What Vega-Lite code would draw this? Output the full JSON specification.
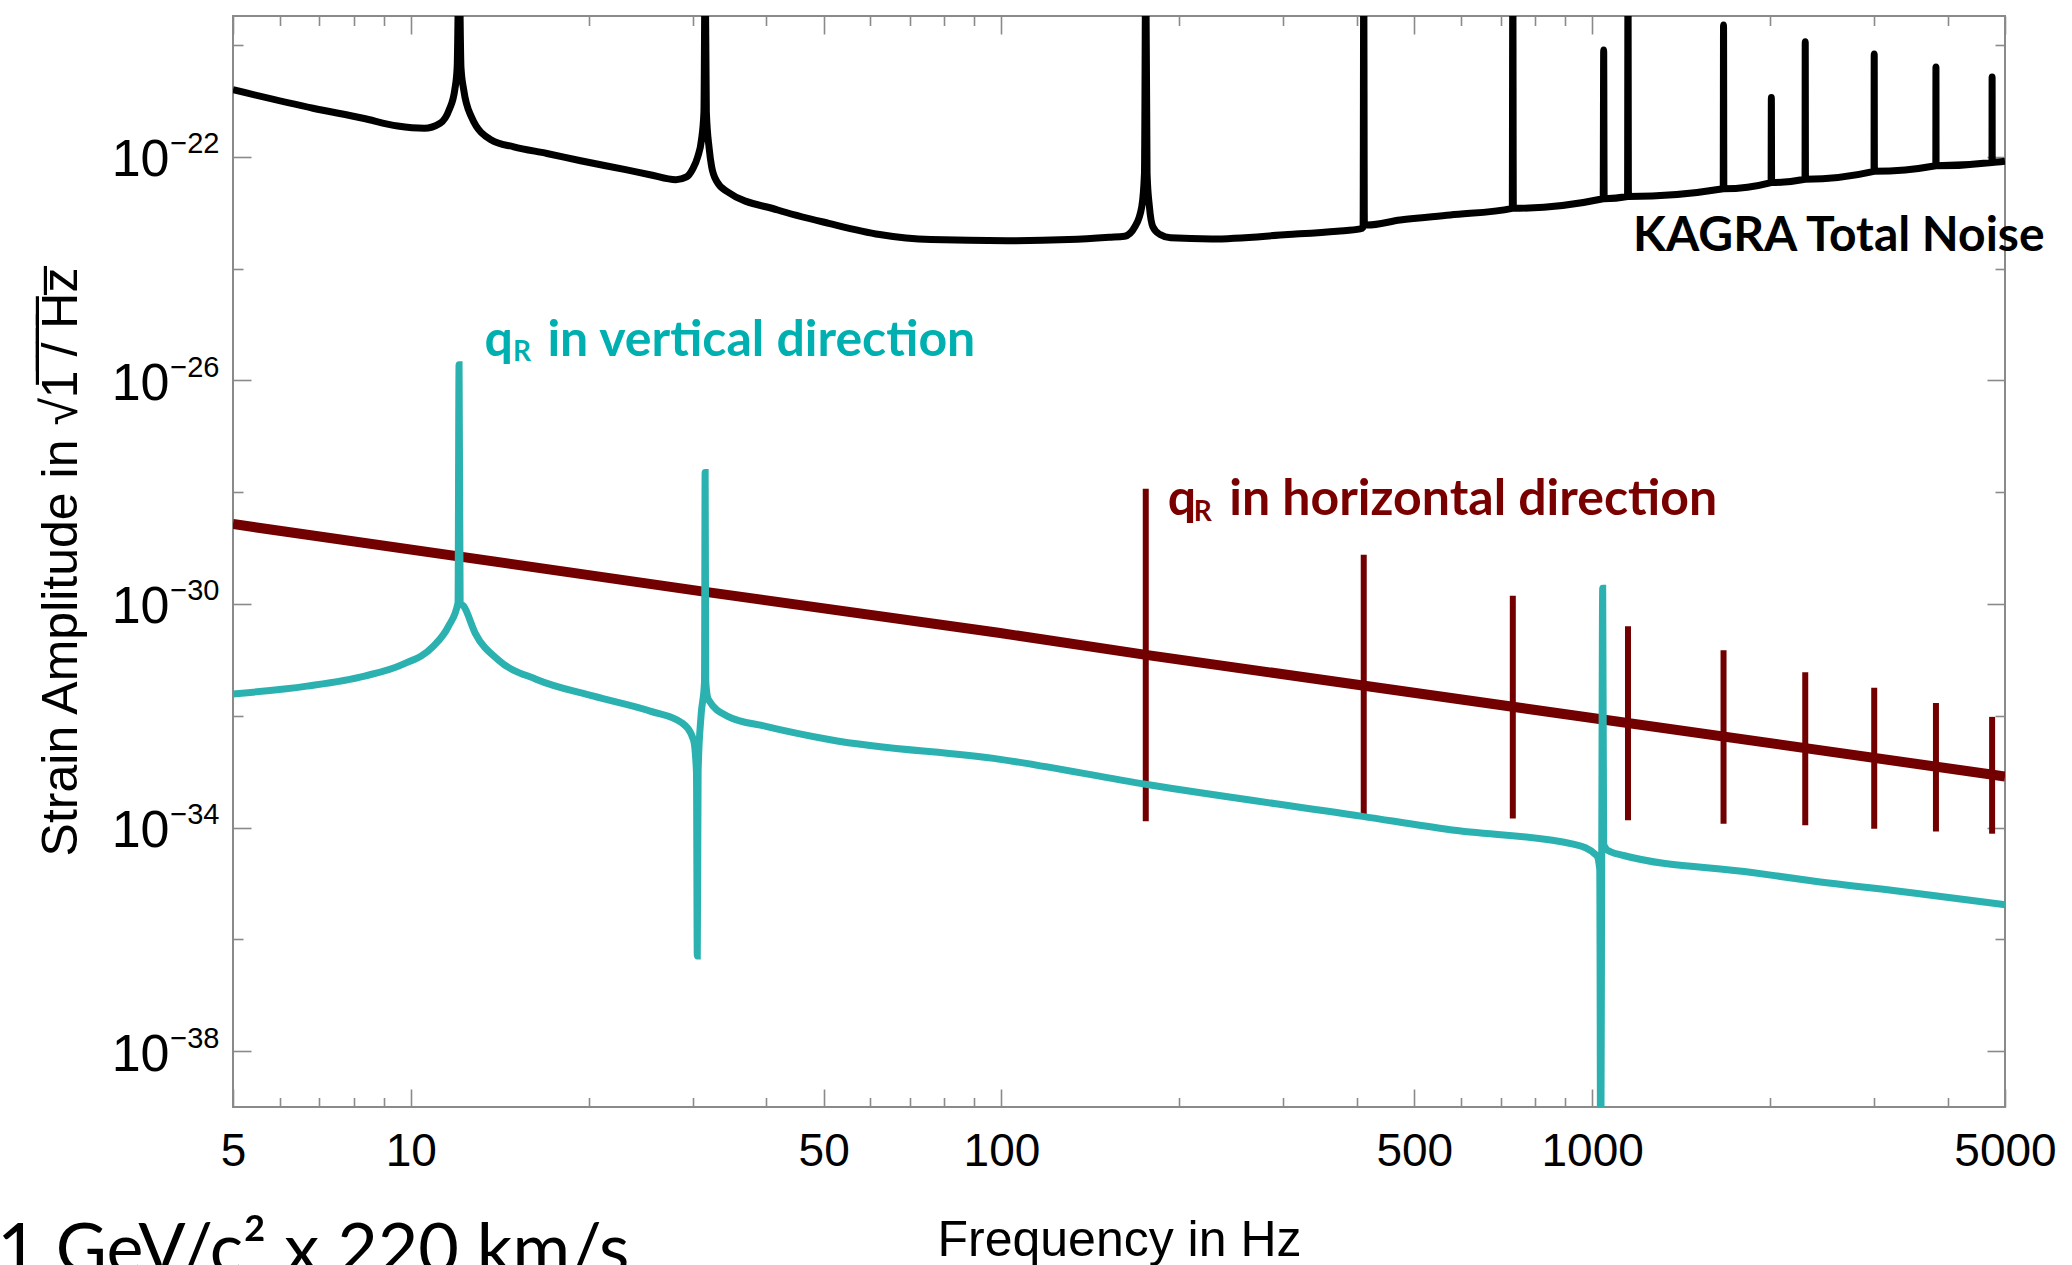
{
  "$schema": "https://vega.github.io/schema/vega-lite/v6.json",
  "width": 1772,
  "height": 1091,
  "autosize": {"type": "none"},
  "padding": {"left": 233, "top": 16, "right": 67, "bottom": 158},
  "background": "white",
  "config": {
    "view": {"stroke": "#8a8a8a", "strokeWidth": 2},
    "axis": {
      "domain": false,
      "grid": false,
      "tickColor": "#8a8a8a",
      "tickWidth": 1.6,
      "labelFont": "Liberation Sans",
      "labelColor": "black",
      "titleFont": "Liberation Sans",
      "titleColor": "black",
      "titleFontWeight": "normal"
    }
  },
  "datasets": {
    "noise": [
      {"f": 5, "h": 1.585e-21}, {"f": 6.83, "h": 7.41e-22}, {"f": 8.3, "h": 4.9e-22},
      {"f": 9.5, "h": 3.55e-22}, {"f": 10.54, "h": 3.24e-22}, {"f": 11.21, "h": 3.98e-22},
      {"f": 11.61, "h": 6.92e-22}, {"f": 11.87, "h": 1.585e-21}, {"f": 11.98, "h": 3.98e-21},
      {"f": 12.07, "h": 3.16e-19}, {"f": 12.16, "h": 3.98e-21}, {"f": 12.29, "h": 1.585e-21},
      {"f": 12.66, "h": 5.25e-22}, {"f": 13.69, "h": 2.0e-22}, {"f": 14.94, "h": 1.51e-22},
      {"f": 17.0, "h": 1.148e-22}, {"f": 19.39, "h": 8.51e-23}, {"f": 23.1, "h": 5.89e-23},
      {"f": 25.4, "h": 4.79e-23}, {"f": 28.1, "h": 3.89e-23}, {"f": 29.3, "h": 4.37e-23},
      {"f": 30.0, "h": 6.03e-23}, {"f": 30.6, "h": 1.0e-22}, {"f": 31.05, "h": 2.0e-22},
      {"f": 31.35, "h": 6.31e-22},
      {"f": 31.5, "h": 3.16e-19}, {"f": 31.65, "h": 6.31e-22}, {"f": 32.0, "h": 1.41e-22},
      {"f": 32.3, "h": 6.76e-23}, {"f": 33.0, "h": 3.55e-23}, {"f": 34.3, "h": 2.4e-23},
      {"f": 41.8, "h": 1.12e-23}, {"f": 51.0, "h": 6.46e-24}, {"f": 62.2, "h": 4.07e-24},
      {"f": 75.9, "h": 3.31e-24}, {"f": 102.2, "h": 3.16e-24}, {"f": 130, "h": 3.31e-24},
      {"f": 152.2, "h": 3.63e-24}, {"f": 161.6, "h": 3.8e-24}, {"f": 168.2, "h": 5.62e-24},
      {"f": 172.8, "h": 1.29e-23}, {"f": 174.6, "h": 5.01e-23}, {"f": 175.5, "h": 3.16e-19},
      {"f": 176.4, "h": 5.01e-23}, {"f": 178.0, "h": 1.29e-23}, {"f": 180.4, "h": 5.62e-24},
      {"f": 185.6, "h": 4.07e-24}, {"f": 193.4, "h": 3.55e-24}, {"f": 226.7, "h": 3.39e-24},
      {"f": 305.5, "h": 4.07e-24}, {"f": 370, "h": 4.68e-24}, {"f": 405, "h": 5.13e-24},
      {"f": 409.5, "h": 5.5e-24}, {"f": 410.5, "h": 3.16e-19}, {"f": 411.5, "h": 6.03e-24},
      {"f": 416, "h": 6.03e-24}, {"f": 473, "h": 7.41e-24}, {"f": 575, "h": 9.12e-24},
      {"f": 732.5, "h": 1.2e-23}, {"f": 734, "h": 3.16e-19}, {"f": 735.5, "h": 1.2e-23},
      {"f": 1044, "h": 1.78e-23}, {"f": 1046, "h": 8.13e-21}, {"f": 1048, "h": 1.78e-23},
      {"f": 1148, "h": 1.95e-23}, {"f": 1150, "h": 3.16e-19}, {"f": 1152, "h": 1.95e-23},
      {"f": 1667, "h": 2.69e-23}, {"f": 1669, "h": 2.29e-20}, {"f": 1671, "h": 2.69e-23},
      {"f": 2009, "h": 3.47e-23}, {"f": 2011, "h": 1.148e-21}, {"f": 2013, "h": 3.47e-23},
      {"f": 2293, "h": 3.98e-23}, {"f": 2295, "h": 1.148e-20}, {"f": 2297, "h": 3.98e-23},
      {"f": 3001, "h": 5.5e-23}, {"f": 3003, "h": 6.92e-21}, {"f": 3005, "h": 5.5e-23},
      {"f": 3818, "h": 6.92e-23}, {"f": 3820, "h": 4.07e-21}, {"f": 3822, "h": 6.92e-23},
      {"f": 4753, "h": 7.94e-23}, {"f": 4755, "h": 2.69e-21}, {"f": 4757, "h": 7.94e-23},
      {"f": 5000, "h": 8.32e-23}
    ],
    "vertical": [
      {"f": 5, "h": 2.45e-32}, {"f": 6.67, "h": 3.39e-32}, {"f": 8.35, "h": 5.13e-32},
      {"f": 9.69, "h": 8.32e-32}, {"f": 10.91, "h": 1.74e-31}, {"f": 11.58, "h": 3.98e-31},
      {"f": 12.02, "h": 1.047e-30}, {"f": 12.07, "h": 1.905e-26}, {"f": 12.12, "h": 1.047e-30},
      {"f": 12.29, "h": 9.12e-31}, {"f": 12.85, "h": 3.02e-31}, {"f": 14.06, "h": 1.0e-31},
      {"f": 16.33, "h": 4.47e-32}, {"f": 20.4, "h": 2.24e-32}, {"f": 25.5, "h": 1.2e-32},
      {"f": 28.8, "h": 7.41e-33}, {"f": 30.1, "h": 3.72e-33}, {"f": 30.45, "h": 1.0e-33},
      {"f": 30.55, "h": 5.01e-37}, {"f": 30.65, "h": 1.0e-33}, {"f": 31.0, "h": 1.0e-32},
      {"f": 31.42, "h": 3.98e-32}, {"f": 31.5, "h": 2.24e-28}, {"f": 31.58, "h": 3.98e-32},
      {"f": 31.9, "h": 1.95e-32}, {"f": 34.4, "h": 9.77e-33}, {"f": 39.9, "h": 6.46e-33},
      {"f": 51.3, "h": 3.72e-33}, {"f": 99.5, "h": 1.66e-33}, {"f": 176.4, "h": 5.89e-34},
      {"f": 408.5, "h": 1.585e-34}, {"f": 575, "h": 9.12e-35}, {"f": 933, "h": 5.01e-35},
      {"f": 1018, "h": 3.16e-35}, {"f": 1030, "h": 1.78e-35}, {"f": 1034, "h": 3.16e-41},
      {"f": 1038, "h": 2.51e-35}, {"f": 1042, "h": 1.905e-30}, {"f": 1046, "h": 5.01e-35},
      {"f": 1060, "h": 3.98e-35}, {"f": 1073, "h": 3.72e-35}, {"f": 1130, "h": 3.16e-35},
      {"f": 1851, "h": 1.585e-35}, {"f": 2350, "h": 1.12e-35}, {"f": 3500, "h": 6.76e-36},
      {"f": 5000, "h": 4.17e-36}
    ],
    "horizontal": [
      {"f": 5, "h": 2.69e-29}, {"f": 30.9, "h": 1.7e-30}, {"f": 99.5, "h": 3.02e-31},
      {"f": 175.6, "h": 1.23e-31}, {"f": 4740, "h": 8.91e-34}, {"f": 5000, "h": 8.13e-34}
    ],
    "horizontalLines": [
      {"f": 175.5, "lo": 1.29e-34, "hi": 1.15e-28},
      {"f": 410.5, "lo": 1.48e-34, "hi": 7.59e-30},
      {"f": 734, "lo": 1.45e-34, "hi": 1.41e-30},
      {"f": 1150, "lo": 1.35e-34, "hi": 3.98e-31},
      {"f": 1669, "lo": 1.175e-34, "hi": 1.48e-31},
      {"f": 2295, "lo": 1.1e-34, "hi": 6.03e-32},
      {"f": 3003, "lo": 9.55e-35, "hi": 3.16e-32},
      {"f": 3820, "lo": 8.51e-35, "hi": 1.7e-32},
      {"f": 4755, "lo": 7.76e-35, "hi": 9.55e-33}
    ],
    "labels": [
      {"f": 13.33, "h": 2.75e-26, "text": "q", "series": "vertical"},
      {"f": 17.03, "h": 2.75e-26, "text": "in vertical direction", "series": "vertical"},
      {"f": 191.2, "h": 3.98e-29, "text": "q", "series": "horizontal"},
      {"f": 243, "h": 3.98e-29, "text": "in horizontal direction", "series": "horizontal"},
      {"f": 1173, "h": 2.04e-24, "text": "KAGRA Total Noise", "series": "noise"}
    ],
    "subscripts": [
      {"f": 14.89, "h": 2.24e-26, "text": "R", "series": "vertical"},
      {"f": 211.5, "h": 3.02e-29, "text": "R", "series": "horizontal"}
    ],
    "note": [
      {"f": 23.44, "h": 1.07e-42, "text": "1 GeV/c\u00b2 x 220 km/s"}
    ]
  },
  "layer": [
    {
      "data": {"name": "horizontal"},
      "mark": {"type": "line", "color": "#720000", "strokeWidth": 10, "clip": true},
      "encoding": {
        "x": {
          "field": "f", "type": "quantitative",
          "scale": {"type": "log", "domain": [5, 5000], "nice": false},
          "axis": {
            "orient": "bottom",
            "values": [5, 6, 7, 8, 9, 10, 20, 30, 40, 50, 60, 70, 80, 90, 100, 200, 300, 400, 500, 600, 700, 800, 900, 1000, 2000, 3000, 4000, 5000],
            "labelExpr": "indexof([5, 10, 50, 100, 500, 1000, 5000], datum.value) >= 0 ? toString(datum.value) : ''",
            "labelFontSize": 46,
            "labelPadding": 40,
            "labelFlush": false,
            "labelOverlap": false,
            "tickSize": {"condition": {"test": "indexof([5, 10, 50, 100, 500, 1000, 5000], datum.value) >= 0", "value": -18}, "value": -9.5},
            "title": "Frequency in Hz",
            "titleFontSize": 50,
            "titlePadding": 33
          }
        },
        "y": {
          "field": "h", "type": "quantitative",
          "scale": {"type": "log", "domain": [1e-39, 3.31e-20], "nice": false},
          "axis": {
            "orient": "left",
            "values": [1e-20, 1e-22, 1e-24, 1e-26, 1e-28, 1e-30, 1e-32, 1e-34, 1e-36, 1e-38],
            "labelExpr": "(round(log(datum.value) / LN10) + 22) % 4 == 0 ? '10' : ''",
            "labelFontSize": 52,
            "labelPadding": 82,
            "labelOffset": 3,
            "labelOverlap": false,
            "tickSize": {"condition": {"test": "(round(log(datum.value) / LN10) + 22) % 4 == 0", "value": -18}, "value": -10},
            "title": "Strain Amplitude in \u221a1\u0305 \u0305/\u0305 \u0305H\u0305z\u0305",
            "titleFontSize": 50,
            "titlePadding": 25
          }
        }
      }
    },
    {
      "data": {"name": "horizontalLines"},
      "mark": {"type": "rule", "color": "#720000", "strokeWidth": 6, "strokeCap": "butt", "clip": true},
      "encoding": {
        "x": {
          "field": "f", "type": "quantitative",
          "scale": {"type": "log", "domain": [5, 5000], "nice": false},
          "axis": {
            "orient": "top",
            "labels": false,
            "values": [5, 6, 7, 8, 9, 10, 20, 30, 40, 50, 60, 70, 80, 90, 100, 200, 300, 400, 500, 600, 700, 800, 900, 1000, 2000, 3000, 4000, 5000],
            "tickSize": {"condition": {"test": "indexof([5, 10, 50, 100, 500, 1000, 5000], datum.value) >= 0", "value": -18}, "value": -9.5},
            "title": null
          }
        },
        "y": {
          "field": "lo", "type": "quantitative",
          "scale": {"type": "log", "domain": [1e-39, 3.31e-20], "nice": false},
          "axis": {
            "orient": "left",
            "ticks": false,
            "values": [1e-20, 1e-22, 1e-24, 1e-26, 1e-28, 1e-30, 1e-32, 1e-34, 1e-36, 1e-38],
            "labelExpr": "(round(log(datum.value) / LN10) + 22) % 4 == 0 ? '\u2212' + toString(-round(log(datum.value) / LN10)) : ''",
            "labelFontSize": 29,
            "labelPadding": 14,
            "labelOffset": -13,
            "labelOverlap": false,
            "title": null
          }
        },
        "y2": {"field": "hi"}
      }
    },
    {
      "data": {"name": "vertical"},
      "mark": {"type": "line", "color": "#2bb2b0", "strokeWidth": 7, "interpolate": "monotone", "clip": true},
      "encoding": {
        "x": {"field": "f", "type": "quantitative", "scale": {"type": "log", "domain": [5, 5000], "nice": false}, "axis": null},
        "y": {
          "field": "h", "type": "quantitative",
          "scale": {"type": "log", "domain": [1e-39, 3.31e-20], "nice": false},
          "axis": {
            "orient": "right",
            "labels": false,
            "values": [1e-20, 1e-22, 1e-24, 1e-26, 1e-28, 1e-30, 1e-32, 1e-34, 1e-36, 1e-38],
            "tickSize": {"condition": {"test": "(round(log(datum.value) / LN10) + 22) % 4 == 0", "value": -18}, "value": -10},
            "title": null
          }
        }
      }
    },
    {
      "data": {"name": "noise"},
      "mark": {"type": "line", "color": "black", "strokeWidth": 7, "interpolate": "monotone", "clip": true},
      "encoding": {
        "x": {"field": "f", "type": "quantitative", "scale": {"type": "log", "domain": [5, 5000], "nice": false}, "axis": null},
        "y": {"field": "h", "type": "quantitative", "scale": {"type": "log", "domain": [1e-39, 3.31e-20], "nice": false}, "axis": null}
      }
    },
    {
      "data": {"name": "labels"},
      "transform": [{"filter": "datum.series != 'noise'"}],
      "mark": {"type": "text", "font": "Lato", "fontWeight": "bold", "fontSize": 50, "align": "left", "baseline": "alphabetic"},
      "encoding": {
        "x": {"field": "f", "type": "quantitative", "scale": {"type": "log", "domain": [5, 5000], "nice": false}, "axis": null},
        "y": {"field": "h", "type": "quantitative", "scale": {"type": "log", "domain": [1e-39, 3.31e-20], "nice": false}, "axis": null},
        "text": {"field": "text"},
        "color": {
          "field": "series", "type": "nominal",
          "scale": {"domain": ["noise", "vertical", "horizontal"], "range": ["#000000", "#00b0b0", "#7a0000"]},
          "legend": null
        }
      }
    },
    {
      "data": {"name": "labels"},
      "transform": [{"filter": "datum.series == 'noise'"}],
      "mark": {"type": "text", "font": "Lato", "fontWeight": "bold", "fontSize": 48, "align": "left", "baseline": "alphabetic"},
      "encoding": {
        "x": {"field": "f", "type": "quantitative", "scale": {"type": "log", "domain": [5, 5000], "nice": false}, "axis": null},
        "y": {"field": "h", "type": "quantitative", "scale": {"type": "log", "domain": [1e-39, 3.31e-20], "nice": false}, "axis": null},
        "text": {"field": "text"},
        "color": {
          "field": "series", "type": "nominal",
          "scale": {"domain": ["noise", "vertical", "horizontal"], "range": ["#000000", "#00b0b0", "#7a0000"]},
          "legend": null
        }
      }
    },
    {
      "data": {"name": "subscripts"},
      "mark": {"type": "text", "font": "Lato", "fontWeight": "bold", "fontSize": 28, "align": "left", "baseline": "alphabetic"},
      "encoding": {
        "x": {"field": "f", "type": "quantitative", "scale": {"type": "log", "domain": [5, 5000], "nice": false}, "axis": null},
        "y": {"field": "h", "type": "quantitative", "scale": {"type": "log", "domain": [1e-39, 3.31e-20], "nice": false}, "axis": null},
        "text": {"field": "text"},
        "color": {
          "field": "series", "type": "nominal",
          "scale": {"domain": ["noise", "vertical", "horizontal"], "range": ["#000000", "#00b0b0", "#7a0000"]},
          "legend": null
        }
      }
    },
    {
      "data": {"name": "note"},
      "mark": {"type": "text", "font": "Lato", "fontSize": 70, "align": "right", "baseline": "alphabetic", "color": "black"},
      "encoding": {
        "x": {"field": "f", "type": "quantitative", "scale": {"type": "log", "domain": [5, 5000], "nice": false}, "axis": null},
        "y": {"field": "h", "type": "quantitative", "scale": {"type": "log", "domain": [1e-39, 3.31e-20], "nice": false}, "axis": null},
        "text": {"field": "text"}
      }
    }
  ],
  "resolve": {"axis": {"x": "independent", "y": "independent"}}
}
